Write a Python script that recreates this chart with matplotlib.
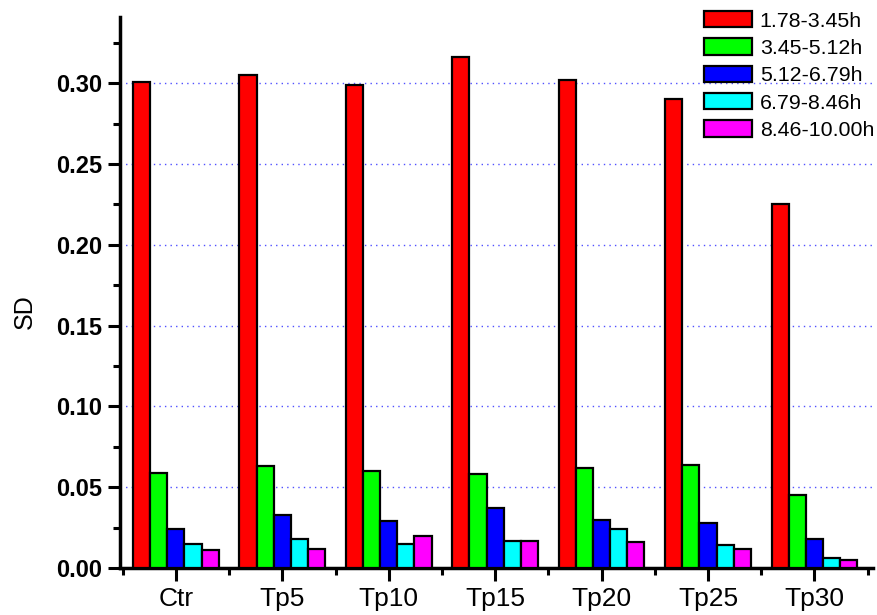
import numpy as np
import matplotlib
matplotlib.use('Agg')
import matplotlib.pyplot as plt
from matplotlib.ticker import MultipleLocator

plt.rcParams['font.family'] = ['Liberation Sans', 'DejaVu Sans']

groups = ['Ctr', 'Tp5', 'Tp10', 'Tp15', 'Tp20', 'Tp25', 'Tp30']
ranges = ['1.78-3.45h', '3.45-5.12h', '5.12-6.79h', '6.79-8.46h', '8.46-10.00h']
colors = ['#ff0000', '#00ff00', '#0000ff', '#00ffff', '#ff00ff']

sd_178_345 = [0.301, 0.305, 0.299, 0.316, 0.302, 0.290, 0.225]
sd_345_512 = [0.059, 0.063, 0.060, 0.058, 0.062, 0.064, 0.045]
sd_512_679 = [0.024, 0.033, 0.029, 0.037, 0.030, 0.028, 0.018]
sd_679_846 = [0.015, 0.018, 0.015, 0.017, 0.024, 0.014, 0.006]
sd_846_1000 = [0.011, 0.012, 0.020, 0.017, 0.016, 0.012, 0.005]
series = [sd_178_345, sd_345_512, sd_512_679, sd_679_846, sd_846_1000]

fig = plt.figure(figsize=(8.77, 6.15), dpi=100)
ax = fig.add_axes([120 / 877, 1 - 568 / 615, 753 / 877, 551 / 615])

x = np.arange(len(groups))
w = 0.161
for i, (vals, c, lab) in enumerate(zip(series, colors, ranges)):
    ax.bar(x + (i - 2) * w, vals, width=w, color=c, edgecolor='black',
           linewidth=1.6, label=lab, zorder=3)

ax.set_xlim(-0.525, 6.55)
ax.set_ylim(0, 0.341)

# blue dotted grid at the major y positions
for yv in np.arange(0.05, 0.31, 0.05):
    ax.axhline(yv, color='#5050ff', linestyle=(0, (1, 3)), linewidth=1.0, zorder=1)

ax.set_xticks(x)
ax.set_xticklabels(groups, fontsize=19)
ax.xaxis.set_minor_locator(MultipleLocator(1, offset=0.5))
ax.yaxis.set_major_locator(MultipleLocator(0.05))
ax.yaxis.set_minor_locator(MultipleLocator(0.025))
ax.yaxis.set_major_formatter(matplotlib.ticker.FormatStrFormatter('%.2f'))
for t in ax.get_yticklabels():
    t.set_fontweight('bold')
    t.set_fontsize(17)

ax.tick_params(which='major', direction='out', length=9, width=2.2, pad=4)
ax.tick_params(which='minor', direction='out', length=5, width=2.2)
ax.tick_params(axis='x', which='major', pad=5)

for side in ['top', 'right']:
    ax.spines[side].set_visible(False)
for side in ['left', 'bottom']:
    ax.spines[side].set_linewidth(2.5)

ax.set_ylabel('SD', fontsize=18)
ax.yaxis.set_label_coords(-0.111, 0.466)

ax.legend(loc='upper left', bbox_to_anchor=(704 / 877, 1 - 11 / 615),
          bbox_transform=fig.transFigure, frameon=False, fontsize=15.4,
          handlelength=2.24, handleheight=0.8, labelspacing=0.36,
          handletextpad=0.37, borderpad=0, borderaxespad=0)

fig.savefig('out.png', dpi=100)
